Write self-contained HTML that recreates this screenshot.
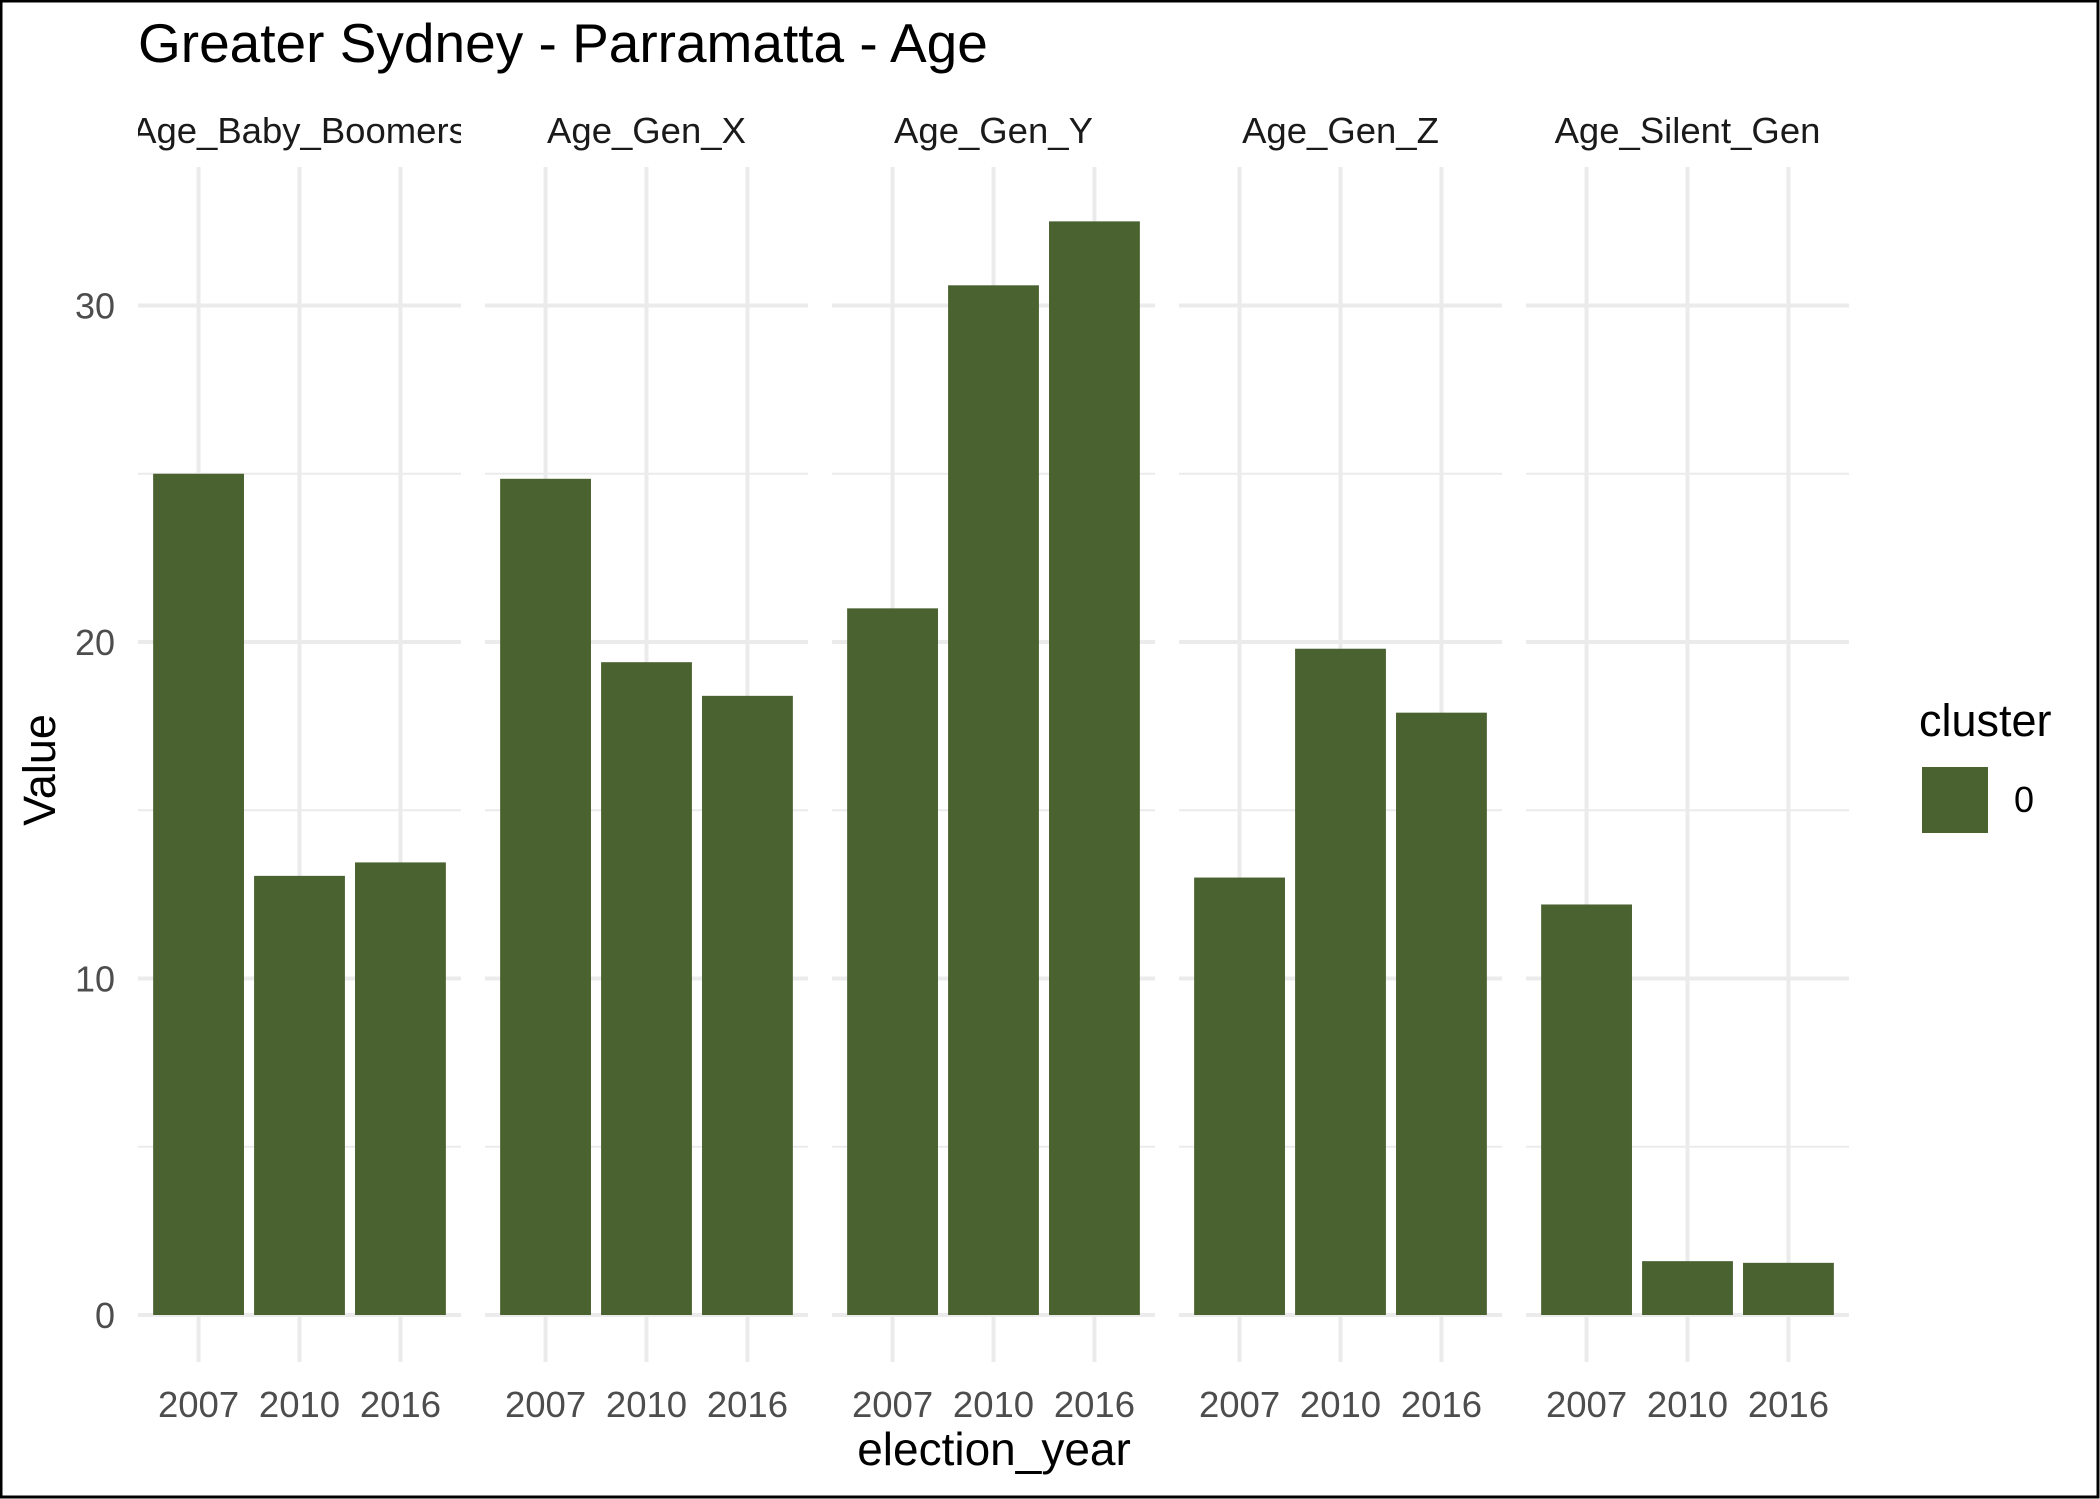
<!DOCTYPE html>
<html><head><meta charset="utf-8"><style>
html,body{margin:0;padding:0;background:#fff}
svg{display:block}
text{font-family:"Liberation Sans",Arial,sans-serif}
</style></head><body>
<svg id="chart" width="2100" height="1499" viewBox="0 0 2100 1499" xmlns="http://www.w3.org/2000/svg">
<rect x="1" y="1" width="2097" height="1496" fill="#fff" stroke="#000" stroke-width="3"/>
<text x="138" y="62" font-size="55" fill="#000">Greater Sydney - Parramatta - Age</text>
<g id="panels"></g>
<text x="994" y="1465" font-size="46" text-anchor="middle" fill="#000">election_year</text>
<text transform="translate(55,770) rotate(-90)" font-size="45" text-anchor="middle" fill="#000">Value</text>
<g>
<text x="1919" y="736" font-size="45" fill="#000">cluster</text>
<rect x="1922" y="767" width="66" height="66" fill="#4A6130"/>
<text x="2014" y="812" font-size="36" fill="#000">0</text>
</g>
</svg>
<script>
const facets = ["Age_Baby_Boomers","Age_Gen_X","Age_Gen_Y","Age_Gen_Z","Age_Silent_Gen"];
const years = ["2007","2010","2016"];
const values = [
  [25.0, 13.05, 13.45],
  [24.85, 19.4, 18.4],
  [21.0, 30.6, 32.5],
  [13.0, 19.8, 17.9],
  [12.2, 1.6, 1.55]
];
const yMajor = [0,10,20,30];
const yMinor = [5,15,25];

const NS = "http://www.w3.org/2000/svg";
const panelsG = document.getElementById('panels');
const y0px = 1315, unit = 33.65, panelTop = 167, panelBot = 1362;
const panelLeft0 = 138, panelW = 323, panelStep = 347;
const yScale = v => y0px - v * unit;
const bandW = panelW / (years.length + 0.2);
const xScale = (p, i) => panelLeft0 + p * panelStep + bandW * (0.6 + i);
function mk(tag, attrs){const e=document.createElementNS(NS,tag);for(const k in attrs)e.setAttribute(k,attrs[k]);return e;}

yMajor.forEach(v=>{
  const t=mk('text',{x:115,y:yScale(v)+13,'font-size':36,fill:'#4D4D4D','text-anchor':'end'});
  
  
  t.textContent=String(v);panelsG.appendChild(t);
});

facets.forEach((f,p)=>{
  const g=mk('g',{});
  
  
  const L=panelLeft0+p*panelStep;
  const cp=mk('clipPath',{id:'clip'+p});
  cp.appendChild(mk('rect',{x:L,y:100,width:panelW,height:60}));
  g.appendChild(cp);
  yMinor.forEach(v=>{
    const l=mk('line',{x1:L,x2:L+panelW,y1:yScale(v),y2:yScale(v),stroke:'#EBEBEB','stroke-width':2});
    
    
    g.appendChild(l);
  });
  yMajor.forEach(v=>{
    const l=mk('line',{x1:L,x2:L+panelW,y1:yScale(v),y2:yScale(v),stroke:'#EBEBEB','stroke-width':4});
    
    
    g.appendChild(l);
  });
  years.forEach((yr,i)=>{
    const cx=xScale(p,i);
    const l=mk('line',{x1:cx,x2:cx,y1:panelTop,y2:panelBot,stroke:'#EBEBEB','stroke-width':4});
    
    
    g.appendChild(l);
  });
  years.forEach((yr,i)=>{
    const cx=xScale(p,i), v=values[p][i], bw=bandW*0.9;
    const r=mk('rect',{x:cx-bw/2,y:yScale(v),width:bw,height:yScale(0)-yScale(v),fill:'#4A6130'});
    
    
    g.appendChild(r);
    const t=mk('text',{x:cx,y:1417,'font-size':36.5,fill:'#4D4D4D','text-anchor':'middle'});
    
    
    t.textContent=yr;g.appendChild(t);
  });
  const s=mk('text',{x:L+panelW/2,y:143,'font-size':36.5,fill:'#1A1A1A','text-anchor':'middle','clip-path':'url(#clip'+p+')'});
  
  
  s.textContent=f;g.appendChild(s);
  panelsG.appendChild(g);
});
</script>
</body></html>
